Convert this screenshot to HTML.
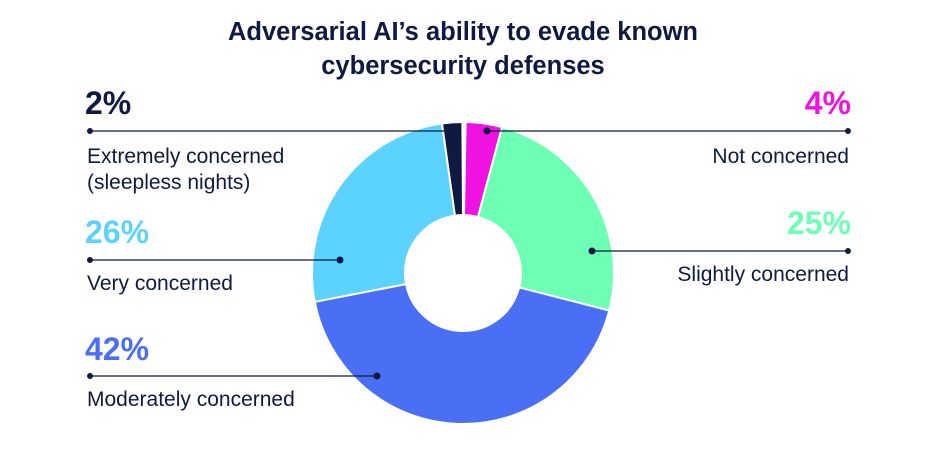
<!DOCTYPE html>
<html><head><meta charset="utf-8"><style>
html,body{margin:0;padding:0;background:#fff;}
svg{display:block;font-family:"Liberation Sans",sans-serif;}
</style></head><body>
<svg width="944" height="452" viewBox="0 0 944 452" xmlns="http://www.w3.org/2000/svg">
<g stroke="#fff" stroke-width="2">
<path d="M465.64,122.02 A151,151 0 0 1 502.08,127.14 L478.01,216.98 A58,58 0 0 0 464.01,215.01Z" fill="#f012e0"/>
<path d="M502.08,127.14 A151,151 0 0 1 609.26,310.55 L519.18,287.42 A58,58 0 0 0 478.01,216.98Z" fill="#6effb4"/>
<path d="M609.26,310.55 A151,151 0 0 1 314.77,301.81 L406.07,284.07 A58,58 0 0 0 519.18,287.42Z" fill="#4a6ff5"/>
<path d="M314.77,301.81 A151,151 0 0 1 441.99,123.47 L454.93,215.56 A58,58 0 0 0 406.07,284.07Z" fill="#5cd3ff"/>
<path d="M441.99,123.47 A151,151 0 0 1 462.36,122.00 L462.99,215.01 A58,58 0 0 0 454.93,215.56Z" fill="#0e1a42"/>
</g>
<g stroke="#0e1a42" stroke-width="1.3">
<line x1="90" y1="131" x2="444" y2="131"/>
<line x1="487" y1="131" x2="848" y2="131"/>
<line x1="90" y1="260" x2="340" y2="260"/>
<line x1="592" y1="251" x2="848" y2="251"/>
<line x1="90" y1="376" x2="377" y2="376"/>
</g>
<g fill="#0e1a42">
<circle cx="90" cy="131" r="3"/><circle cx="487" cy="131" r="3.5"/><circle cx="848" cy="131" r="3"/>
<circle cx="90" cy="260" r="3"/><circle cx="340" cy="260" r="3.5"/>
<circle cx="592" cy="251" r="3.5"/><circle cx="848" cy="251" r="3"/>
<circle cx="90" cy="376" r="3"/><circle cx="377" cy="376" r="3.5"/>
</g>
<g font-weight="bold" font-size="25.5" fill="#0e1a42" text-anchor="middle">
<text x="463" y="40">Adversarial AI’s ability to evade known</text>
<text x="463" y="74">cybersecurity defenses</text>
</g>
<g font-weight="bold" font-size="32">
<text x="85" y="114" fill="#0e1a42">2%</text>
<text x="851" y="114" fill="#f012e0" text-anchor="end">4%</text>
<text x="85" y="243" fill="#5cd3ff">26%</text>
<text x="851" y="234" fill="#6effb4" text-anchor="end">25%</text>
<text x="85" y="360" fill="#4a6ff5">42%</text>
</g>
<g font-size="21" fill="#0e1a42">
<text x="87" y="163">Extremely concerned</text>
<text x="87" y="189">(sleepless nights)</text>
<text x="849" y="163" text-anchor="end">Not concerned</text>
<text x="87" y="290">Very concerned</text>
<text x="849" y="281" text-anchor="end">Slightly concerned</text>
<text x="87" y="406">Moderately concerned</text>
</g>
</svg>
</body></html>
